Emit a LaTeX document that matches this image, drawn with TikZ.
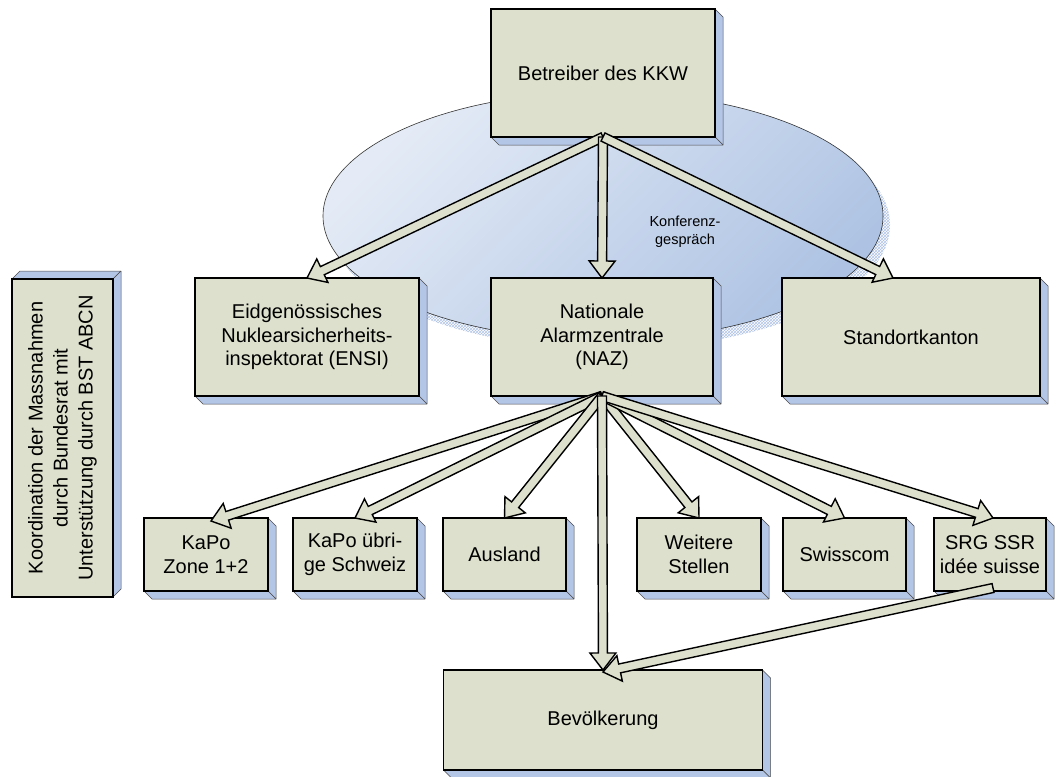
\documentclass[tikz,border=0pt]{standalone}
\usepackage{fontspec}
\usepackage{graphicx}
\setmainfont{Liberation Sans}
\usetikzlibrary{calc,backgrounds,patterns}
\definecolor{boxfill}{RGB}{221,224,204}
\definecolor{bevelfill}{RGB}{180,198,230}
\definecolor{ellA}{RGB}{228,235,246}
\definecolor{ellB}{RGB}{174,195,227}
\definecolor{hatch}{RGB}{175,195,230}
\newcommand\dep{8}
\newcommand\bevDR[1]{%
  \filldraw[bevel] (#1.north east) -- ++(\dep,\dep) -- ($(#1.south east)+(\dep,\dep)$) -- (#1.south east) -- cycle;
  \filldraw[bevel] (#1.south west) -- ++(\dep,\dep) -- ($(#1.south east)+(\dep,\dep)$) -- (#1.south east) -- cycle;}
\newcommand\bevUR[1]{%
  \filldraw[bevel] (#1.north west) -- ++(\dep,-\dep) -- ($(#1.north east)+(\dep,-\dep)$) -- (#1.north east) -- cycle;
  \filldraw[bevel] (#1.south east) -- ++(\dep,-\dep) -- ($(#1.north east)+(\dep,-\dep)$) -- (#1.north east) -- cycle;}
\newcommand\barrow[2]{%
  \coordinate (ba-s) at (#1);
  \coordinate (ba-e) at (#2);
  \coordinate (ba-h) at ($(ba-e)!17pt!(ba-s)$);
  \draw[blockarrow] ($(ba-s)!4.5pt!90:(ba-e)$) -- ($(ba-h)!4.5pt!-90:(ba-s)$) -- ($(ba-h)!13pt!-90:(ba-s)$) -- (ba-e) -- ($(ba-h)!13pt!90:(ba-s)$) -- ($(ba-h)!4.5pt!90:(ba-s)$) -- ($(ba-s)!4.5pt!-90:(ba-e)$) -- cycle;}
\tikzset{
  box/.style={draw=black, line width=1.8pt, fill=boxfill, inner sep=0pt, outer sep=0pt, align=center, font=\fontsize{20}{23.5}\selectfont},
  bevel/.style={fill=bevelfill, draw=black!70, line width=0.5pt, line join=round},
  blockarrow/.style={fill=boxfill, draw=black, line width=1.4pt, line join=miter},
  smalltext/.style={align=center, font=\fontsize{14.5}{18}\selectfont, inner sep=0pt}
}
\begin{document}
\begin{tikzpicture}[x=1pt, y=-1pt]
\useasboundingbox (0,0) rectangle (1056,776);
% conference ellipse
\begin{scope}[on background layer]
  \fill[pattern=crosshatch, pattern color=hatch] (610,225) ellipse [x radius=280pt, y radius=124pt];
  \shade[top color=ellA, bottom color=ellB, shading angle=45] (603,216) ellipse [x radius=280pt, y radius=124pt];
  \draw[line width=0.6pt, black!80] (603,216) ellipse [x radius=280pt, y radius=124pt];
\end{scope}
% boxes
\node[box, minimum width=224pt, minimum height=128pt] (betr) at (603,73) {Betreiber des KKW};
\node[box, minimum width=224pt, minimum height=118pt] (ensi) at (307,337) {Eidgenössisches\\Nuklearsicherheits-\\inspektorat (ENSI)};
\node[box, minimum width=222pt, minimum height=118pt] (naz) at (602,337) {Nationale\\Alarmzentrale\\(NAZ)};
\node[box, minimum width=258pt, minimum height=118pt] (std) at (911,337) {Standortkanton};
\node[box, minimum width=101pt, minimum height=318pt] (koord) at (62.5,438) {\rotatebox{90}{\fontsize{20}{25}\selectfont\begin{tabular}{@{}c@{}}Koordination der Massnahmen\\durch Bundesrat mit\\Unterstützung durch BST ABCN\end{tabular}}};
\node[box, minimum width=124pt, minimum height=73pt] (kp1) at (206,554.5) {KaPo\\Zone 1+2};
\node[box, minimum width=124pt, minimum height=73pt] (kp2) at (355,554.5) {KaPo übri-\\ge Schweiz};
\node[box, minimum width=123pt, minimum height=73pt] (ausl) at (504.5,554.5) {Ausland};
\node[box, minimum width=124pt, minimum height=73pt] (weit) at (699,554.5) {Weitere\\Stellen};
\node[box, minimum width=123pt, minimum height=73pt] (swc) at (844.5,554.5) {Swisscom};
\node[box, minimum width=112pt, minimum height=73pt] (srg) at (990,554.5) {SRG SSR\\idée suisse};
\node[box, minimum width=319pt, minimum height=100pt] (bev) at (603,720) {Bevölkerung};
% bevels
\begin{scope}[on background layer]
  \bevDR{betr}\bevDR{ensi}\bevDR{naz}\bevDR{std}
  \bevDR{kp1}\bevDR{kp2}\bevDR{ausl}\bevDR{weit}\bevDR{swc}\bevDR{srg}\bevDR{bev}
  \bevUR{koord}
\end{scope}
% label
\node[smalltext] (konf) at (685,232) {Konferenz-\\gespräch};
% arrows
\barrow{betr.south}{ensi.north}
\barrow{betr.south}{naz.north}
\barrow{betr.south}{$(std.north)+(-18,0)$}
\barrow{naz.south}{$(kp1.north)+(5,3)$}
\barrow{naz.south}{kp2.north}
\barrow{naz.south}{ausl.north}
\barrow{naz.south}{weit.north}
\barrow{naz.south}{swc.north}
\barrow{naz.south}{$(srg.north)+(3,0)$}
\barrow{naz.south}{bev.north}
\barrow{$(srg.south)+(3,-3)$}{$(bev.north)+(0,2)$}
\end{tikzpicture}
\end{document}
